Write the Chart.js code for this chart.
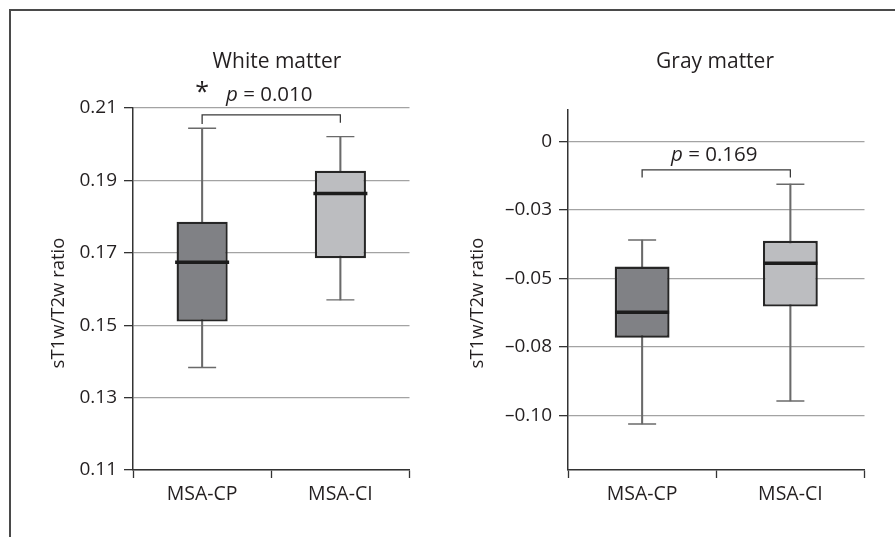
<!DOCTYPE html>
<html>
<head>
<meta charset="utf-8">
<script src="https://cdn.jsdelivr.net/npm/chart.js@4.4.0/dist/chart.umd.min.js"></script>
<style>
  body { margin: 0; background: #fff; overflow: hidden; }
  #frame { position: absolute; left: 9px; top: 9px; width: 890px; height: 530px;
           border-top: 2px solid #4a4a4a; border-left: 2px solid #4a4a4a; }
  #wrapL { position: absolute; left: 0; top: 0; width: 440px; height: 537px; }
  #wrapR { position: absolute; left: 440px; top: 0; width: 455px; height: 537px; }
</style>
</head>
<body>
<div id="frame"></div>
<div id="wrapL"><canvas id="white" width="440" height="537"></canvas></div>
<div id="wrapR"><canvas id="gray" width="455" height="537"></canvas></div>
<script>
var groups = ['MSA-CP', 'MSA-CI'];
var boxColors = ['#808185', '#bcbdc0'];

// white matter
var whiteMin = [0.1383, 0.1570];
var whiteQ1 = [0.1510, 0.1685];
var whiteMedian = [0.1674, 0.1864];
var whiteQ3 = [0.1786, 0.1927];
var whiteMax = [0.2044, 0.2021];
var whiteBracket = [0.2056, 0.2081, 0.2081, 0.2059];
var whiteTicks = [0.11, 0.13, 0.15, 0.17, 0.19, 0.21];
var whiteTickLabels = ['0.11', '0.13', '0.15', '0.17', '0.19', '0.21'];
var whiteP = '0.010';

// gray matter
var grayMin = [-0.1032, -0.0948];
var grayQ1 = [-0.0717, -0.0603];
var grayMedian = [-0.0624, -0.0445];
var grayQ3 = [-0.0457, -0.0363];
var grayMax = [-0.0360, -0.0156];
var grayBracket = [-0.0132, -0.0104, -0.0104, -0.0132];
var grayTicks = [-0.10, -0.075, -0.05, -0.025, 0];
var grayTickLabels = ['\u20130.10', '\u20130.08', '\u20130.05', '\u20130.03', '0'];
var grayP = '0.169';

var textColor = '#231f20';
var fontName = '"Open Sans"';

var annotate = {
  id: 'annotate',
  afterDraw: function(chart, args, opts) {
    var ctx = chart.ctx;
    var xs = chart.scales.x, ys = chart.scales.y;
    ctx.save();
    ctx.fillStyle = textColor;

    // panel title
    ctx.font = '21px ' + fontName;
    ctx.textAlign = 'center';
    ctx.textBaseline = 'alphabetic';
    ctx.fillText(opts.title, opts.titleX, 68);

    // y axis title
    ctx.save();
    ctx.translate(opts.axisX, 303);
    ctx.rotate(-Math.PI / 2);
    ctx.font = '18.5px ' + fontName;
    ctx.textBaseline = 'middle';
    ctx.fillText('sT1w/T2w ratio', 0, 0);
    ctx.restore();

    // p value above the bracket
    var cx = (xs.getPixelForValue(0) + xs.getPixelForValue(1)) / 2 - 2;
    var by = ys.getPixelForValue(opts.bracketTop) - opts.pGap;
    ctx.textAlign = 'left';
    ctx.font = 'italic 20.5px ' + fontName;
    var w1 = ctx.measureText('p').width;
    ctx.font = '20.5px ' + fontName;
    var rest = ' = ' + opts.p;
    var w2 = ctx.measureText(rest).width;
    var sx = cx - (w1 + w2) / 2;
    ctx.font = 'italic 20.5px ' + fontName;
    ctx.fillText('p', sx, by);
    ctx.font = '20.5px ' + fontName;
    ctx.fillText(rest, sx + w1, by);

    if (opts.star) {
      ctx.textAlign = 'center';
      ctx.font = '25px ' + fontName;
      ctx.fillText('*', xs.getPixelForValue(0), by - 1);
    }
    ctx.restore();
  }
};

function makeChart(id, d) {
  var ctx = document.getElementById(id).getContext('2d');
  var bracketPts = [
    { x: groups[0], y: d.bracket[0] },
    { x: groups[0], y: d.bracket[1] },
    { x: groups[1], y: d.bracket[2] },
    { x: groups[1], y: d.bracket[3] }
  ];
  return new Chart(ctx, {
    type: 'bar',
    data: {
      labels: groups,
      datasets: [
        {
          // whiskers
          type: 'bar',
          data: d.min.map(function(v, i) { return [v, d.max[i]]; }),
          backgroundColor: '#6a6a6a',
          barThickness: 1.4,
          grouped: false,
          order: 5
        },
        {
          // boxes
          type: 'bar',
          data: d.q1.map(function(v, i) { return [v, d.q3[i]]; }),
          backgroundColor: boxColors,
          borderColor: '#262626',
          borderWidth: 2.4,
          borderSkipped: false,
          barPercentage: 0.37,
          categoryPercentage: 1,
          grouped: false,
          order: 4
        },
        {
          type: 'line',
          data: d.max,
          showLine: false,
          pointStyle: 'line',
          pointRadius: 14,
          pointBorderColor: '#6a6a6a',
          pointBorderWidth: 1.4,
          order: 3
        },
        {
          type: 'line',
          data: d.min,
          showLine: false,
          pointStyle: 'line',
          pointRadius: 14,
          pointBorderColor: '#6a6a6a',
          pointBorderWidth: 1.4,
          order: 3
        },
        {
          // medians
          type: 'line',
          data: d.median,
          showLine: false,
          pointStyle: 'line',
          pointRadius: 27,
          pointBorderColor: '#1c1c1c',
          pointBorderWidth: 3.5,
          order: 1
        },
        {
          // significance bracket
          type: 'line',
          data: bracketPts,
          borderColor: '#3a3a3a',
          borderWidth: 1.3,
          pointRadius: 0,
          fill: false,
          order: 0
        }
      ]
    },
    options: {
      responsive: false,
      animation: false,
      layout: { padding: { left: 0, top: d.top, right: d.right, bottom: 22 } },
      plugins: {
        legend: { display: false },
        tooltip: { enabled: false },
        annotate: {
          title: d.title, titleX: d.titleX, axisX: d.axisX,
          bracketTop: d.bracket[1], pGap: d.pGap, p: d.p, star: d.star
        }
      },
      scales: {
        x: {
          type: 'category',
          offset: true,
          grid: { offset: true, drawOnChartArea: false, drawTicks: true,
                  tickLength: 8, tickColor: '#333', tickWidth: 1.3 },
          border: { color: '#333', width: 1.5 },
          ticks: { color: textColor, font: { family: 'Open Sans', size: 19.5 }, padding: 5 },
          afterFit: function(s) { s.height = 45; }
        },
        y: {
          min: d.yMin,
          max: d.yMax,
          afterBuildTicks: function(s) {
            s.ticks = d.ticks.map(function(v) { return { value: v }; });
          },
          grid: { color: '#a3a3a3', lineWidth: 1.3, tickLength: 9,
                  tickColor: '#333', tickWidth: 1.3 },
          border: { color: '#333', width: 1.5 },
          ticks: {
            color: textColor,
            font: { family: 'Open Sans', size: 19 },
            padding: 7,
            callback: function(v, i) { return d.tickLabels[i]; }
          },
          afterFit: function(s) { s.width = d.yWidth; }
        }
      }
    },
    plugins: [annotate]
  });
}

makeChart('white', {
  min: whiteMin, q1: whiteQ1, median: whiteMedian, q3: whiteQ3, max: whiteMax,
  bracket: whiteBracket, ticks: whiteTicks, tickLabels: whiteTickLabels,
  yMin: 0.11, yMax: 0.21, top: 108, right: 10, yWidth: 133,
  title: 'White matter', titleX: 277, axisX: 59, pGap: 14, p: whiteP, star: true
});

makeChart('gray', {
  min: grayMin, q1: grayQ1, median: grayMedian, q3: grayQ3, max: grayMax,
  bracket: grayBracket, ticks: grayTicks, tickLabels: grayTickLabels,
  yMin: -0.12, yMax: 0.0115, top: 110, right: 30, yWidth: 128,
  title: 'Gray matter', titleX: 275, axisX: 38, pGap: 9, p: grayP, star: false
});
</script>
</body>
</html>
